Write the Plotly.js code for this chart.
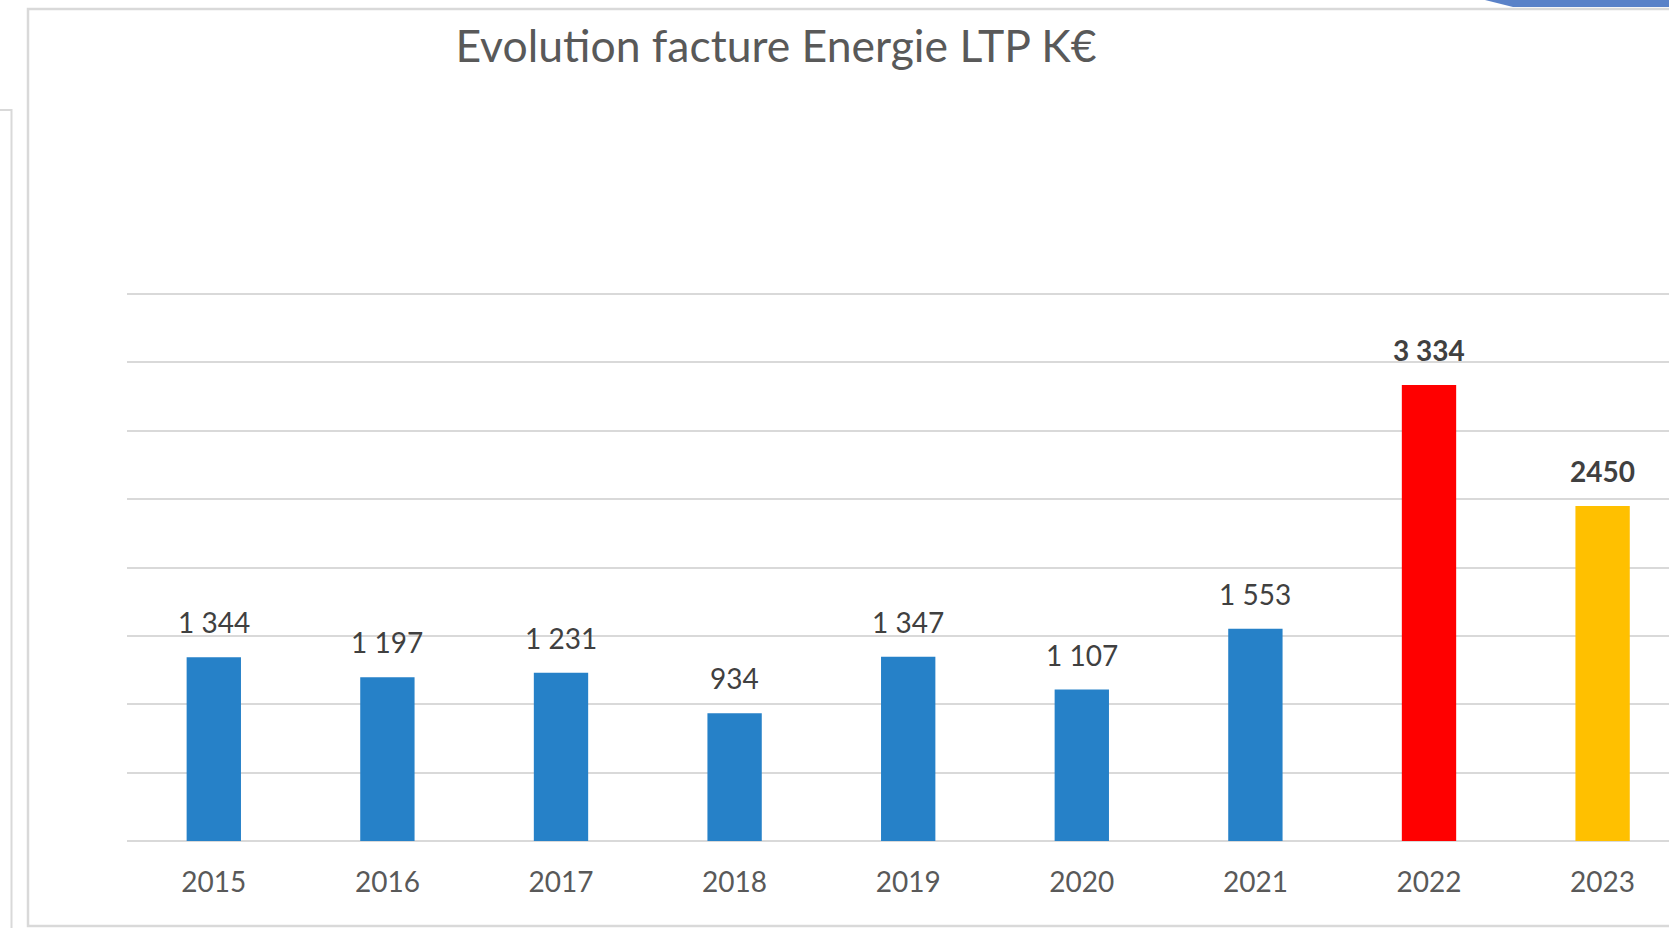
<!DOCTYPE html>
<html>
<head>
<meta charset="utf-8">
<script src="https://cdn.plot.ly/plotly-3.0.1.min.js"></script>
<style>
html, body { margin: 0; padding: 0; background: #ffffff; }
#chart { width: 1669px; height: 928px; }
</style>
</head>
<body>
<div id="chart"></div>
<script>
// ---- data ----
const years = ['2015', '2016', '2017', '2018', '2019', '2020', '2021', '2022', '2023'];
const values = [1344, 1197, 1231, 934, 1347, 1107, 1553, 3334, 2450];
const valueLabels = ['1 344', '1 197', '1 231', '934', '1 347', '1 107', '1 553', '3 334', '2450'];
const barColors = ['#2681C8', '#2681C8', '#2681C8', '#2681C8', '#2681C8', '#2681C8', '#2681C8', '#FF0000', '#FFC000'];
const labelBold = [false, false, false, false, false, false, false, true, true];
const titleText = 'Evolution facture Energie LTP K€';

// ---- layout geometry (pixels) ----
const W = 1669, H = 928;
const plotL = 127, plotR = 0, plotT = 292, plotB = 87;
const plotW = W - plotL - plotR, plotH = H - plotT - plotB;
const px2x = p => (p - plotL) / plotW;
const py2y = p => (H - plotB - p) / plotH;

const FONT = 'Lato, "Open Sans", sans-serif';

const annotations = values.map((v, i) => ({
  x: i, y: v, xref: 'x', yref: 'y',
  text: labelBold[i] ? '<b>' + valueLabels[i] + '</b>' : valueLabels[i],
  showarrow: false, yanchor: 'bottom', yshift: 16,
  font: { family: FONT, size: 28, color: '#404040' }
}));

const shapes = [
  // chart frame
  { type: 'rect', xref: 'paper', yref: 'paper',
    x0: px2x(28), x1: px2x(W + 10), y0: py2y(926), y1: py2y(9),
    line: { color: '#D9D9D9', width: 2.5 }, fillcolor: 'rgba(0,0,0,0)', layer: 'below' },
  // neighbouring box on the left
  { type: 'path', xref: 'paper', yref: 'paper',
    path: `M ${px2x(-5)} ${py2y(110)} L ${px2x(11.5)} ${py2y(110)} L ${px2x(11.5)} ${py2y(935)}`,
    line: { color: '#D9D9D9', width: 2 } },
  // blue slide decoration top right
  { type: 'path', xref: 'paper', yref: 'paper',
    path: `M ${px2x(1477)} ${py2y(-2)} L ${px2x(W + 5)} ${py2y(-2)} L ${px2x(W + 5)} ${py2y(7)} L ${px2x(1513)} ${py2y(7)} Z`,
    line: { width: 0 }, fillcolor: '#5A82C8' }
];

const trace = {
  type: 'bar',
  x: years,
  y: values,
  width: 0.313,
  marker: { color: barColors, line: { width: 0 } },
  hoverinfo: 'x+y'
};

const yTop = 4000 * plotH / (H - plotB - 294);

const layout = {
  width: W, height: H,
  margin: { l: plotL, r: plotR, t: plotT, b: plotB, pad: 0 },
  paper_bgcolor: '#ffffff', plot_bgcolor: '#ffffff',
  showlegend: false,
  title: {
    text: titleText,
    font: { family: FONT, size: 44.5, color: '#595959' },
    xref: 'paper', x: px2x(776), xanchor: 'center',
    yref: 'container', y: 1 - 46 / H, yanchor: 'middle'
  },
  xaxis: {
    type: 'category',
    range: [-0.5, -0.5 + plotW / 173.6],
    showgrid: false, zeroline: false, showline: false,
    ticks: '', ticklabelstandoff: 22,
    tickfont: { family: FONT, size: 28, color: '#595959' },
    fixedrange: true
  },
  yaxis: {
    range: [0, yTop], dtick: 500, tick0: 0,
    showgrid: true, gridcolor: '#D9D9D9', gridwidth: 2,
    zeroline: true, zerolinecolor: '#D9D9D9', zerolinewidth: 2,
    showticklabels: false, ticks: '', showline: false,
    fixedrange: true
  },
  annotations: annotations,
  shapes: shapes
};

Plotly.newPlot('chart', [trace], layout, { displayModeBar: false, staticPlot: true });
</script>
</body>
</html>
